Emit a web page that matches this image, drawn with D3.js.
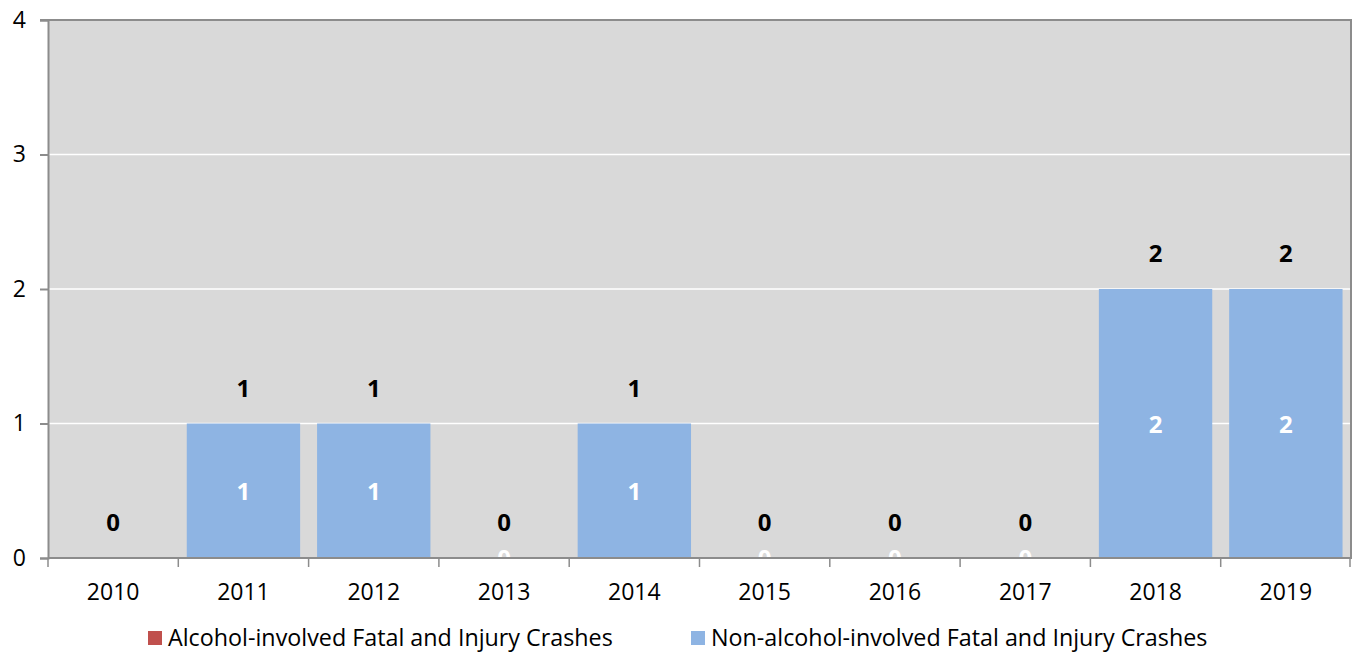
<!DOCTYPE html>
<html>
<head>
  <meta charset="UTF-8">
  <title>Fatal and Injury Crashes</title>
  <script src="https://cdn.jsdelivr.net/npm/d3@7"></script>
  <style>
    body { margin: 0; background: #fff; }
    svg { display: block; font-family: 'Open Sans', sans-serif; }
  </style>
</head>
<body>
<svg id="chart" width="1352" height="652"></svg>
<script>
// data (2010 non-alcohol point carries no label in the original)
const years = ['2010', '2011', '2012', '2013', '2014', '2015', '2016', '2017', '2018', '2019'];
const alcohol = [0, 0, 0, 0, 0, 0, 0, 0, 0, 0];
const nonAlcohol = [null, 1, 1, 0, 1, 0, 0, 0, 2, 2];
const seriesNames = ['Alcohol-involved Fatal and Injury Crashes', 'Non-alcohol-involved Fatal and Injury Crashes'];
const seriesColors = ['#C0504D', '#8EB4E3'];
const yTicks = [0, 1, 2, 3, 4];

const svg = d3.select('#chart');
const margin = {top: 20, right: 1, left: 48, bottom: 94};
const W = 1352, H = 652;

const x = d3.scaleBand().domain(years).range([margin.left, W - margin.right]).paddingInner(0.13).paddingOuter(0.065);
const y = d3.scaleLinear().domain([0, 4]).range([H - margin.bottom, margin.top]);

// plot background
svg.append('rect')
  .attr('x', margin.left).attr('y', margin.top)
  .attr('width', W - margin.right - margin.left)
  .attr('height', y(0) - margin.top)
  .attr('fill', '#D9D9D9');

// gridlines
svg.append('g').selectAll('line').data(yTicks.filter(t => t > 0 && t < 4)).enter()
  .append('line')
    .attr('x1', margin.left).attr('x2', W - margin.right)
    .attr('y1', d => y(d)).attr('y2', d => y(d))
    .attr('stroke', '#fff').attr('stroke-width', 1.5);

// stacked bars
const table = years.map((yr, i) => ({year: yr, a: alcohol[i], n: nonAlcohol[i] || 0, hasN: nonAlcohol[i] !== null}));
const stack = d3.stack().keys(['a', 'n'])(table);

const layers = svg.append('g').selectAll('g').data(stack).enter()
  .append('g').attr('fill', (d, i) => seriesColors[i]);

layers.selectAll('rect').data(d => d).enter()
  .append('rect')
    .attr('x', d => x(d.data.year))
    .attr('width', x.bandwidth())
    .attr('y', d => y(d[1]))
    .attr('height', d => y(d[0]) - y(d[1]));

// plot frame (top + right) and axes
svg.append('path')
  .attr('d', `M${margin.left - 8},${margin.top}H${W - margin.right}V${y(0)}`)
  .attr('fill', 'none').attr('stroke', '#8C8C8C').attr('stroke-width', 2);

const yAxis = svg.append('g').attr('transform', `translate(${margin.left},0)`)
  .call(d3.axisLeft(y).tickValues(yTicks).tickSize(8).tickPadding(14).tickFormat(d3.format('d')));
yAxis.select('.domain').attr('stroke', '#8C8C8C').attr('stroke-width', 2);
yAxis.selectAll('.tick line').attr('stroke', '#8C8C8C').attr('stroke-width', 2);
yAxis.selectAll('.tick text').attr('font-size', 23).attr('fill', '#000').attr('font-family', 'Open Sans');

// labels inside the blue bars (white)
svg.append('g').selectAll('text').data(stack[1].filter(d => d.data.hasN)).enter()
  .append('text')
    .attr('x', d => x(d.data.year) + x.bandwidth() / 2)
    .attr('y', d => (y(d[0]) + y(d[1])) / 2 + 9)
    .attr('text-anchor', 'middle')
    .attr('font-size', 24).attr('font-weight', 'bold')
    .attr('fill', '#fff')
    .text(d => d[1] - d[0]);

// totals above the bars (black)
svg.append('g').selectAll('text').data(table).enter()
  .append('text')
    .attr('x', d => x(d.year) + x.bandwidth() / 2)
    .attr('y', d => y(d.a + d.n) - 27)
    .attr('text-anchor', 'middle')
    .attr('font-size', 24).attr('font-weight', 'bold')
    .attr('fill', '#000')
    .text(d => d.a + d.n);

// white cover below the axis so zero labels look cut off
svg.append('rect')
  .attr('x', margin.left + 2).attr('y', y(0) + 1)
  .attr('width', W - margin.left).attr('height', 12)
  .attr('fill', '#fff');

// x axis: ticks sit on band boundaries
const bounds = years.map(yr => x(yr) - x.step() * x.paddingInner() / 2);
bounds[0] = margin.left;
bounds.push(W - margin.right - 1);
const xg = svg.append('g');
xg.append('line')
  .attr('x1', margin.left).attr('x2', W)
  .attr('y1', y(0)).attr('y2', y(0))
  .attr('stroke', '#8C8C8C').attr('stroke-width', 2);
xg.selectAll('.tk').data(bounds).enter()
  .append('line')
    .attr('x1', d => d).attr('x2', d => d)
    .attr('y1', y(0)).attr('y2', y(0) + 9)
    .attr('stroke', '#8C8C8C').attr('stroke-width', 1.5);
xg.selectAll('text').data(years).enter()
  .append('text')
    .attr('x', d => x(d) + x.bandwidth() / 2)
    .attr('y', y(0) + 42)
    .attr('text-anchor', 'middle')
    .attr('font-size', 23)
    .text(d => d);

// legend
const legendX = [148, 691];
const legend = svg.append('g').selectAll('g').data(seriesNames).enter()
  .append('g').attr('transform', (d, i) => `translate(${legendX[i]},631)`);
legend.append('rect').attr('width', 14).attr('height', 14).attr('fill', (d, i) => seriesColors[i]);
legend.append('text').attr('x', 20).attr('y', 15).attr('font-size', 23.3).text(d => d);
</script>
</body>
</html>
